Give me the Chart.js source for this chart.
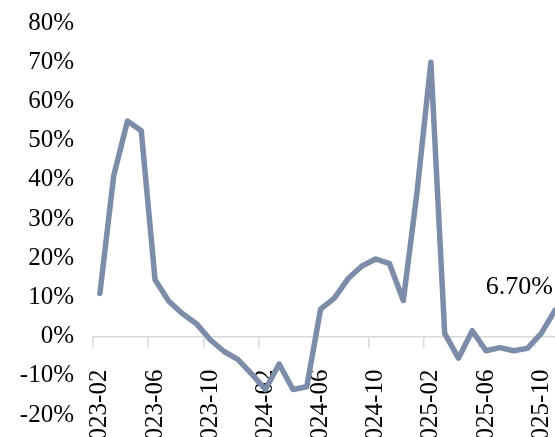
<!DOCTYPE html>
<html>
<head>
<meta charset="utf-8">
<style>
  html, body { margin: 0; padding: 0; background: #ffffff; overflow: hidden; width: 555px; height: 437px; }
  #wrap { position: absolute; left: 0; top: -11px; width: 608px; height: 460px; }
</style>
<script src="https://cdn.jsdelivr.net/npm/chart.js@4/dist/chart.umd.min.js"></script>
</head>
<body>
<div id="wrap"><canvas id="c"></canvas></div>
<script>
// Monthly year-on-year growth, 2023-02 .. 2025-11
const months = [
  '2023-02','2023-03','2023-04','2023-05','2023-06','2023-07','2023-08','2023-09','2023-10','2023-11','2023-12',
  '2024-01','2024-02','2024-03','2024-04','2024-05','2024-06','2024-07','2024-08','2024-09','2024-10','2024-11','2024-12',
  '2025-01','2025-02','2025-03','2025-04','2025-05','2025-06','2025-07','2025-08','2025-09','2025-10','2025-11'
];
const growth = [
  11, 41, 55, 52.5, 14.5, 9, 5.8, 3.3, -0.8, -3.8, -5.8,
  -9.5, -13.5, -7, -13.5, -12.8, 7, 9.8, 14.8, 18, 19.8, 18.6, 9.2,
  37, 70, 0.8, -5.5, 1.5, -3.6, -2.8, -3.6, -3, 0.8, 6.7
];
const yMin = -20;
const yMax = 80;
const yStep = 10;
const labelEvery = 4;

const serif = '"Liberation Serif", "Times New Roman", serif';
const lineColor = '#7d8ca8';
const axisColor = '#d9d9d9';

// Writes the latest value above the end of the line
const lastValueLabel = {
  id: 'lastValueLabel',
  afterDatasetsDraw(chart) {
    const meta = chart.getDatasetMeta(0);
    const i = growth.length - 1;
    const pt = meta.data[i];
    const ctx = chart.ctx;
    ctx.save();
    ctx.font = '26px ' + serif;
    ctx.fillStyle = '#000000';
    ctx.textAlign = 'right';
    ctx.textBaseline = 'alphabetic';
    ctx.fillText(growth[i].toFixed(2) + '%', pt.x - 2, pt.y - 16);
    ctx.restore();
  }
};

new Chart(document.getElementById('c'), {
  type: 'line',
  data: {
    labels: months,
    datasets: [{
      data: growth,
      borderColor: lineColor,
      borderWidth: 5.5,
      pointRadius: 0,
      tension: 0,
      fill: false,
      borderJoinStyle: 'round',
      borderCapStyle: 'round'
    }]
  },
  options: {
    responsive: true,
    maintainAspectRatio: false,
    devicePixelRatio: 1,
    animation: false,
    layout: { padding: 0 },
    plugins: {
      legend: { display: false },
      tooltip: { enabled: false }
    },
    scales: {
      x: {
        type: 'category',
        offset: true,
        position: { y: 0 },
        grid: {
          offset: true,
          drawOnChartArea: false,
          drawTicks: true,
          tickLength: 10,
          lineWidth: 1.5,
          color: (ctx) => (ctx.index % labelEvery === 0 ? axisColor : 'rgba(0,0,0,0)')
        },
        border: { display: true, color: axisColor, width: 1.5 },
        ticks: {
          autoSkip: false,
          minRotation: 90,
          maxRotation: 90,
          padding: 23,
          color: '#000000',
          font: { family: serif, size: 25 },
          callback: (v, i) => (i % labelEvery === 0 ? months[i] : '')
        }
      },
      y: {
        min: yMin,
        max: yMax,
        grid: { display: false, drawTicks: false },
        border: { display: false },
        afterFit: (scale) => { scale.width = 93; },
        ticks: {
          stepSize: yStep,
          padding: 19,
          color: '#000000',
          font: { family: serif, size: 25 },
          callback: (v) => v + '%'
        }
      }
    }
  },
  plugins: [lastValueLabel]
});
</script>
</body>
</html>
